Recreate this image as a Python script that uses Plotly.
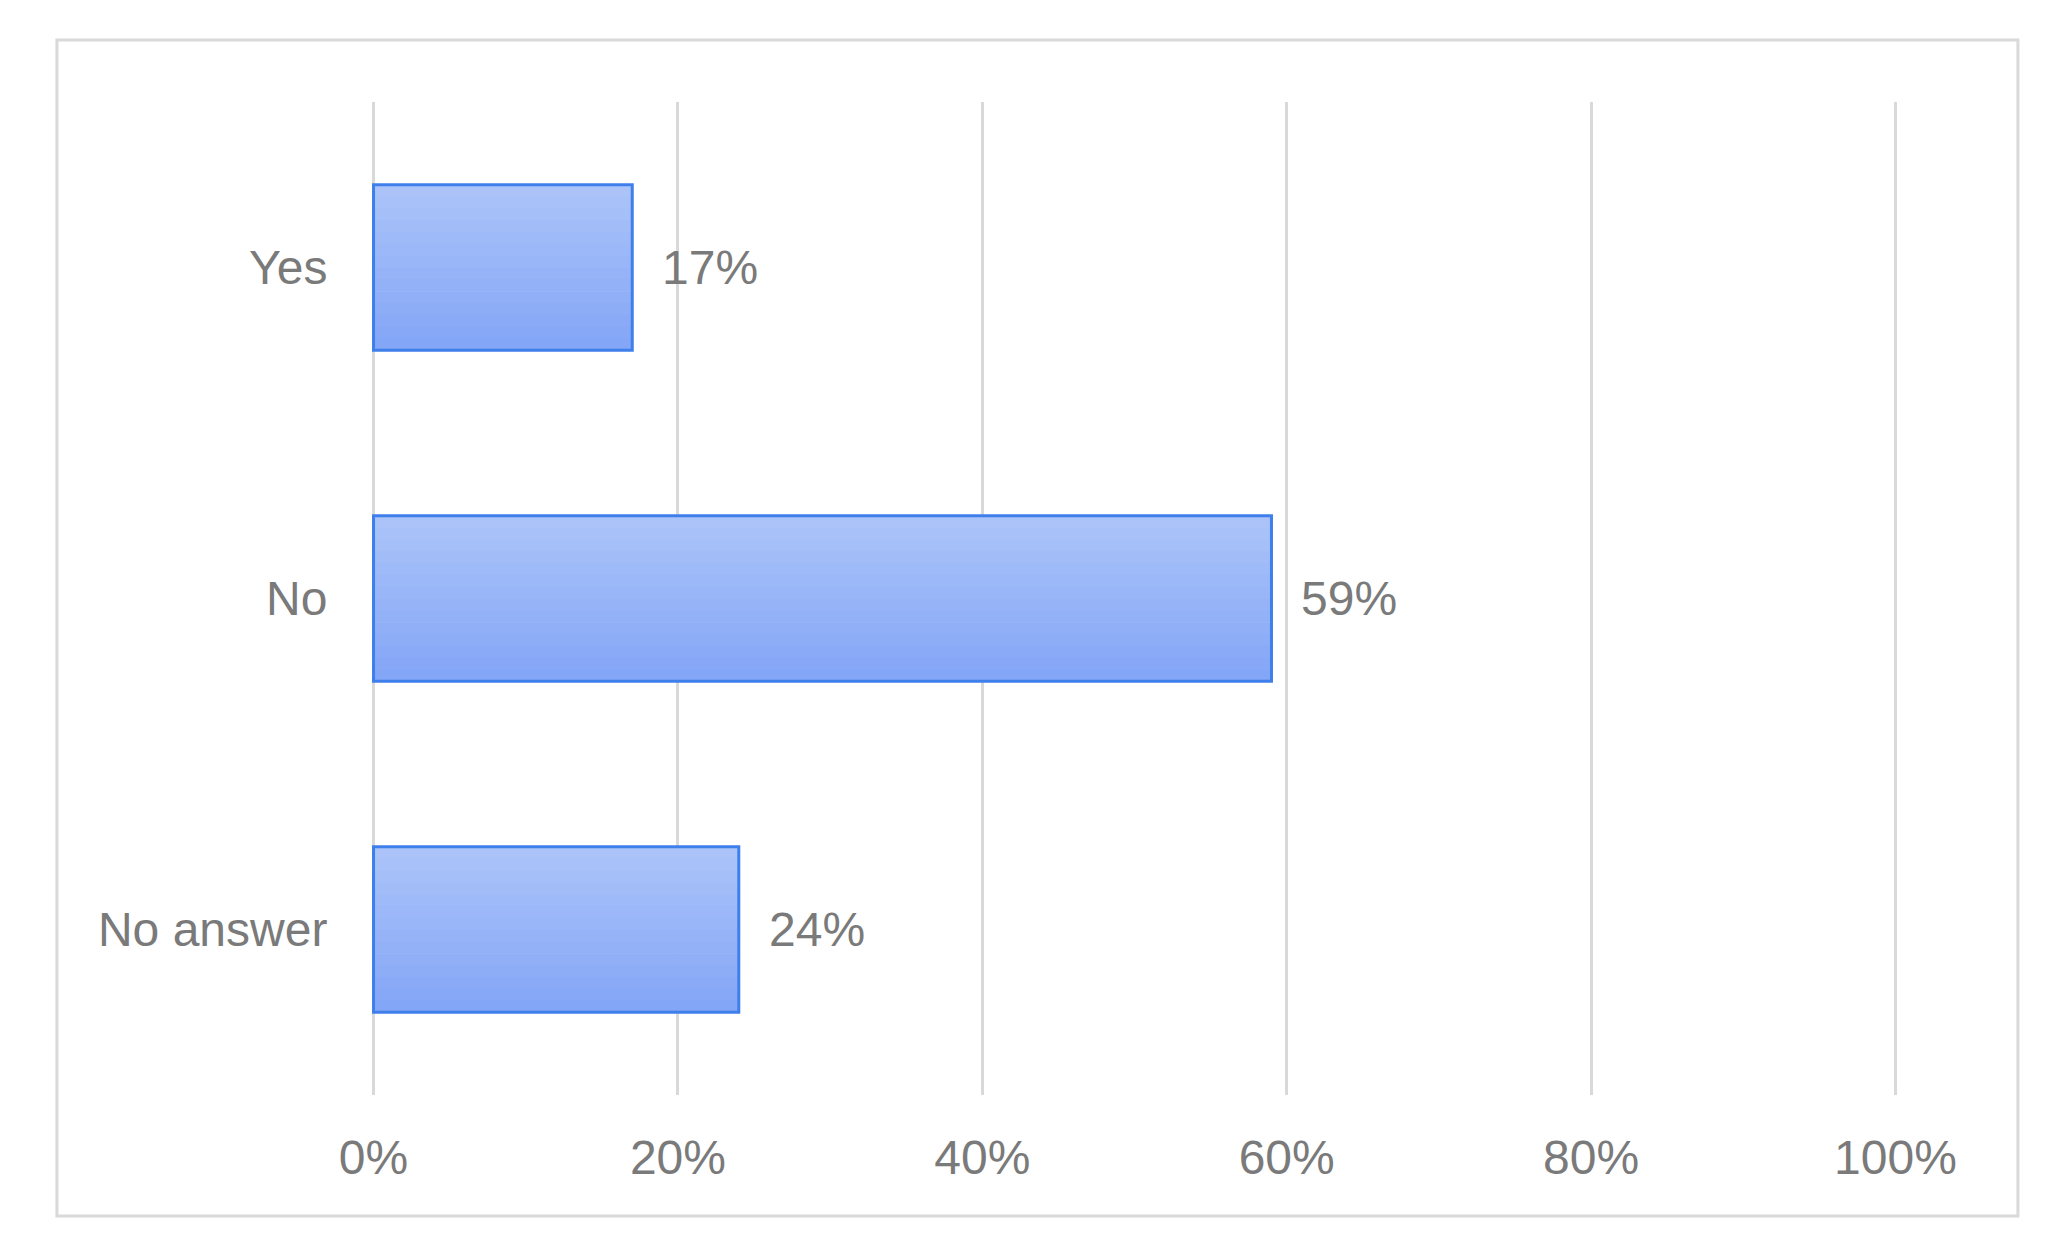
import plotly.graph_objects as go

# survey answers
categories = ["Yes", "No", "No answer"]
shares = [17, 59, 24]
x_ticks = [0, 20, 40, 60, 80, 100]
x_tick_labels = ["0%", "20%", "40%", "60%", "80%", "100%"]

font_family = "Liberation Sans, Arial, sans-serif"
grey_text = "#7a7a7a"
grid_grey = "#d9d9d9"
font_size = 48

fig = go.Figure()

# fake a vertical gradient with thin stacked slices of the same bar
n_slices = 14
bar_w = 0.5
top_rgb = (171, 195, 248)
bot_rgb = (132, 166, 247)
for i in range(n_slices):
    t = i / (n_slices - 1)
    c = tuple(round(top_rgb[k] + (bot_rgb[k] - top_rgb[k]) * t) for k in range(3))
    fig.add_trace(go.Bar(
        x=shares, y=categories, orientation="h",
        width=bar_w / n_slices + 0.002,
        offset=-bar_w / 2 + i * bar_w / n_slices,
        marker=dict(color="rgb(%d,%d,%d)" % c, line=dict(width=0)),
        hoverinfo="skip", showlegend=False,
    ))

# outline on top
fig.add_trace(go.Bar(
    x=shares, y=categories, orientation="h",
    width=bar_w, offset=-bar_w / 2,
    marker=dict(color="rgba(0,0,0,0)", line=dict(color="#3f7fec", width=3)),
    showlegend=False,
))

fig.update_layout(barmode="overlay")

for cat, val in zip(categories, shares):
    fig.add_annotation(
        x=val, y=cat, text=f"{val}%", showarrow=False,
        xanchor="left", xshift=28,
        font=dict(family=font_family, size=font_size, color=grey_text),
    )

# light grey frame around the whole chart
fig.add_shape(
    type="rect", xref="paper", yref="paper",
    x0=-0.2066, x1=1.0793, y0=-0.1219, y1=1.0625,
    line=dict(color=grid_grey, width=3), fillcolor="rgba(0,0,0,0)",
)

fig.update_xaxes(
    range=[-0.1, 100.1], tickvals=x_ticks, ticktext=x_tick_labels,
    showgrid=True, gridcolor=grid_grey, gridwidth=3, zeroline=False,
    showline=False, ticks="outside", ticklen=20, tickcolor="rgba(0,0,0,0)",
    tickfont=dict(family=font_family, size=font_size, color=grey_text),
    fixedrange=True,
)
fig.update_yaxes(
    categoryorder="array", categoryarray=categories, autorange="reversed",
    showgrid=False, zeroline=False, showline=False,
    ticks="outside", ticklen=34, tickcolor="rgba(0,0,0,0)",
    tickfont=dict(family=font_family, size=font_size, color=grey_text),
    fixedrange=True,
)

# page body adds an 8px margin, so the figure is 8px smaller each way
fig.update_layout(
    width=2060, height=1246,
    margin=dict(l=364, r=171, t=94, b=159),
    paper_bgcolor="white", plot_bgcolor="white",
    font=dict(family=font_family, color=grey_text),
)

fig.write_html("out.html", config={"displayModeBar": False})
